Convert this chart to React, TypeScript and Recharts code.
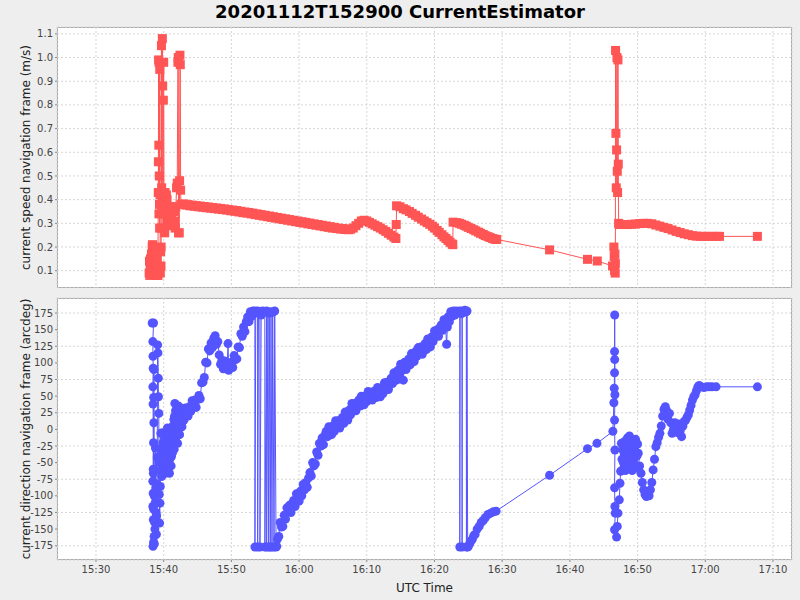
import React from 'react';
import { LineChart, Line, XAxis, YAxis, CartesianGrid } from 'recharts';

// time is minutes after 15:00 UTC
const timeTicks = [30, 40, 50, 60, 70, 80, 90, 100, 110, 120, 130];
const speedTicks = [0.1, 0.2, 0.3, 0.4, 0.5, 0.6, 0.7, 0.8, 0.9, 1.0, 1.1];
const dirTicks = [-175, -150, -125, -100, -75, -50, -25, 0, 25, 50, 75, 100, 125, 150, 175];

// [time, speed m/s]
const speedPts: [number, number][] = [
  [37.85, 0.09], [37.9, 0.14], [37.95, 0.08], [38.0, 0.12], [38.05, 0.15], [38.1, 0.1], [38.2, 0.17],
  [38.25, 0.13], [38.3, 0.2], [38.35, 0.21], [38.4, 0.16], [38.45, 0.19], [38.5, 0.12], [38.55, 0.18],
  [38.6, 0.09], [38.7, 0.14], [38.75, 0.11], [38.8, 0.17], [38.85, 0.08], [38.9, 0.13], [38.95, 0.1],
  [39.0, 0.15], [39.05, 0.09], [39.1, 0.12], [39.15, 0.08],
  [39.2, 0.43], [39.22, 0.56], [39.25, 0.99], [39.28, 0.63], [39.3, 0.34], [39.32, 0.98], [39.35, 0.5],
  [39.38, 0.38], [39.4, 0.28], [39.42, 0.95], [39.45, 0.42], [39.5, 0.09], [39.55, 0.18], [39.6, 0.12],
  [39.62, 0.2], [39.64, 0.28], [39.67, 1.05], [39.7, 0.45], [39.75, 0.35], [39.8, 1.08], [39.85, 0.88],
  [39.9, 0.4], [39.95, 0.82], [40.0, 0.98], [40.05, 0.34], [40.1, 0.36], [40.15, 0.26], [40.2, 0.43],
  [40.25, 0.38], [40.3, 0.35], [40.4, 0.42], [40.45, 0.31], [40.5, 0.4], [40.6, 0.34], [40.7, 0.37],
  [40.8, 0.3], [40.9, 0.35], [41.0, 0.29], [41.1, 0.33], [41.2, 0.36], [41.3, 0.3], [41.4, 0.37],
  [41.5, 0.35], [41.6, 0.31], [41.7, 0.28], [41.8, 0.37], [41.9, 0.45], [42.0, 0.47], [42.1, 0.98],
  [42.15, 1.0], [42.2, 0.26], [42.3, 0.26], [42.35, 0.48], [42.4, 1.01], [42.45, 0.97], [42.5, 0.44],
  [42.55, 0.38],
  [43.0, 0.382], [43.3, 0.377], [43.6, 0.379], [43.9, 0.374], [44.2, 0.377], [44.5, 0.372], [44.8, 0.375],
  [45.1, 0.37], [45.4, 0.373], [45.7, 0.368], [46.0, 0.371], [46.3, 0.366], [46.6, 0.369], [46.9, 0.364],
  [47.2, 0.367], [47.5, 0.362], [47.8, 0.365], [48.1, 0.36], [48.4, 0.363], [48.7, 0.358], [49.0, 0.361],
  [49.3, 0.356], [49.6, 0.358], [49.9, 0.353], [50.2, 0.356], [50.5, 0.351], [50.8, 0.354], [51.1, 0.348],
  [51.4, 0.351], [51.7, 0.345], [52.0, 0.348], [52.3, 0.343], [52.6, 0.346], [52.9, 0.34], [53.2, 0.343],
  [53.5, 0.337], [53.8, 0.34], [54.1, 0.334], [54.4, 0.337], [54.7, 0.331], [55.0, 0.334], [55.3, 0.328],
  [55.6, 0.331], [55.9, 0.325], [56.2, 0.328], [56.5, 0.322], [56.8, 0.325], [57.1, 0.319], [57.4, 0.322],
  [57.7, 0.316], [58.0, 0.319], [58.3, 0.313], [58.6, 0.316], [58.9, 0.31], [59.2, 0.313], [59.5, 0.307],
  [59.8, 0.31], [60.1, 0.304], [60.4, 0.307], [60.7, 0.301], [61.0, 0.304], [61.3, 0.298], [61.6, 0.301],
  [61.9, 0.295], [62.2, 0.298], [62.5, 0.292], [62.8, 0.295], [63.1, 0.289], [63.4, 0.292], [63.7, 0.286],
  [64.0, 0.289], [64.3, 0.283], [64.6, 0.286], [64.9, 0.28], [65.2, 0.283], [65.5, 0.278], [65.8, 0.28],
  [66.1, 0.276], [66.4, 0.278], [66.7, 0.274], [67.0, 0.276], [67.3, 0.273], [67.6, 0.275],
  [68.0, 0.28], [68.4, 0.29], [68.8, 0.3], [69.2, 0.31], [69.6, 0.313], [70.0, 0.31], [70.4, 0.304],
  [70.8, 0.298], [71.2, 0.292], [71.6, 0.286], [72.0, 0.28], [72.4, 0.273], [72.8, 0.266], [73.2, 0.258],
  [73.6, 0.25], [74.0, 0.242], [74.3, 0.236], [74.35, 0.295], [74.4, 0.374],
  [74.9, 0.37], [75.4, 0.362], [75.8, 0.357], [76.3, 0.35], [76.7, 0.342], [77.2, 0.334], [77.6, 0.326],
  [78.1, 0.318], [78.5, 0.31], [78.9, 0.303], [79.3, 0.296], [79.7, 0.288], [80.0, 0.28], [80.4, 0.27],
  [80.7, 0.262], [81.1, 0.252], [81.4, 0.243], [81.7, 0.236], [82.0, 0.228], [82.3, 0.22], [82.6, 0.213],
  [82.7, 0.21], [82.75, 0.305], [83.3, 0.303], [83.7, 0.3], [84.0, 0.296], [84.4, 0.292], [84.7, 0.288],
  [85.0, 0.283], [85.4, 0.278], [85.8, 0.273], [86.1, 0.268], [86.5, 0.263], [86.8, 0.258], [87.2, 0.253],
  [87.5, 0.248], [87.9, 0.244], [88.2, 0.24], [88.6, 0.236], [88.9, 0.233], [89.2, 0.232],
  [97.0, 0.188], [102.6, 0.148], [104.05, 0.141],
  [106.3, 0.12], [106.5, 0.2], [106.55, 0.16], [106.6, 0.1], [106.65, 0.17], [106.7, 0.09], [106.72, 0.13],
  [106.75, 1.03], [106.8, 0.68], [106.85, 0.45], [106.9, 0.61], [106.95, 1.0], [107.0, 0.52],
  [107.05, 0.43], [107.1, 0.99], [107.15, 0.55], [107.2, 0.3],
  [107.3, 0.295], [107.9, 0.295], [108.5, 0.295], [109.1, 0.296], [109.7, 0.297], [110.3, 0.299],
  [110.9, 0.3], [111.5, 0.3], [112.1, 0.298], [112.7, 0.293], [113.3, 0.288], [113.9, 0.283],
  [114.5, 0.278], [115.1, 0.272], [115.7, 0.266], [116.3, 0.261], [116.9, 0.256], [117.5, 0.252],
  [118.1, 0.248], [118.7, 0.246], [119.3, 0.245], [119.9, 0.245], [120.5, 0.245], [121.1, 0.245],
  [121.7, 0.245], [122.1, 0.245], [127.7, 0.245],
];

// [time, direction arcdeg]
const dirPts: [number, number][] = [
  // first burst around 15:38-15:43
  [38.3, 160], [38.5, 160], [38.4, 132], [38.42, 110], [38.45, 92], [38.4, 64], [38.43, 38], [38.47, -66],
  [38.4, -78], [38.45, -96], [38.4, -116], [38.47, -136], [38.42, -176], [38.5, -170], [38.58, -161],
  [38.52, -120], [38.46, -60], [38.5, -20], [38.55, 10], [38.52, 48], [38.56, 90], [38.6, -100],
  [38.66, -140], [38.62, -172], [38.7, -150], [38.76, -110], [38.72, -62], [38.78, -28], [38.82, -88],
  [38.86, -125], [38.92, -158], [38.96, -130], [39.0, -82], [39.05, -42], [39.1, 127], [39.15, 115],
  [39.2, 77], [39.22, 49], [39.28, 24], [39.3, -50], [39.35, -98], [39.4, -141], [39.45, -111],
  [39.5, -86], [39.52, -40], [39.58, -6], [39.62, -30], [39.66, -62],
  [39.7, -71], [39.75, -30], [39.8, -45], [39.85, -5], [39.88, -20], [39.92, -60], [39.95, -55],
  [40.0, -35], [40.05, -6], [40.1, -48], [40.15, -30], [40.2, -15], [40.25, -66], [40.3, -50],
  [40.35, -40], [40.4, -25], [40.45, -10], [40.5, -58], [40.55, 2], [40.6, -40], [40.65, -25],
  [40.7, -8], [40.75, -50], [40.8, -30], [40.85, -66], [40.9, -45], [40.95, -35], [41.0, -20],
  [41.05, -15], [41.1, -55], [41.15, -41], [41.2, -5], [41.25, -20], [41.3, -35], [41.35, 5],
  [41.4, -25], [41.45, -10], [41.5, 15], [41.55, -30], [41.6, 20], [41.65, 39], [41.7, 10], [41.75, 28],
  [41.8, -12], [41.85, 19], [41.9, 30], [41.95, -5], [42.0, 12], [42.05, -21], [42.1, 25], [42.15, 10],
  [42.2, 35], [42.25, 25], [42.3, 2], [42.35, -8], [42.4, 18], [42.45, 15], [42.5, 32], [42.55, 30],
  [42.6, 8], [42.7, 4],
  // slow turn to 180 by 15:53
  [42.8, 20], [43.0, 14], [43.2, 32], [43.4, 23], [43.6, 20], [43.8, 34], [44.0, 27], [44.2, 43],
  [44.4, 34], [44.6, 44], [44.8, 33], [45.0, 45], [45.2, 51], [45.4, 46], [45.6, 70], [45.8, 71],
  [46.0, 78], [46.2, 101], [46.4, 100], [46.6, 121], [46.8, 118], [47.0, 130], [47.2, 123], [47.4, 137],
  [47.6, 141], [47.8, 128], [48.0, 132], [48.2, 112], [48.4, 98], [48.6, 104], [48.8, 91], [49.0, 103],
  [49.2, 91], [49.4, 98], [49.5, 129], [49.6, 89], [49.8, 97], [50.0, 101], [50.2, 93], [50.4, 111],
  [50.6, 105], [50.8, 106], [51.0, 124], [51.2, 123], [51.4, 144], [51.6, 140], [51.8, 154], [52.0, 147],
  [52.2, 162], [52.4, 169], [52.6, 162], [52.8, 177], [53.0, 170], [53.2, 178],
  // wrap-around between 180 and -180
  [53.47, 178], [53.48, -177], [53.6, 175], [53.87, 178], [53.88, -177], [54.0, 176], [54.21, 177],
  [54.22, -177], [54.4, 172], [54.6, 178], [54.94, 176], [54.95, -177], [55.2, 178], [55.21, -177],
  [55.4, 176], [55.5, -177], [55.6, 175], [55.75, -177], [55.85, 177], [56.0, -177], [56.1, 176],
  [56.3, -177], [56.4, 178], [56.6, -177], [56.7, -176],
  // long rise 15:57 - 16:23
  [56.8, -165], [57.0, -161], [57.2, -140], [57.4, -147], [57.6, -146], [57.8, -129], [58.0, -135],
  [58.2, -118], [58.4, -124], [58.6, -114], [58.8, -125], [59.0, -111], [59.2, -107], [59.4, -116],
  [59.6, -97], [59.8, -105], [60.0, -108], [60.2, -93], [60.4, -100], [60.6, -83], [60.8, -91],
  [61.0, -80], [61.2, -87], [61.4, -73], [61.6, -65], [61.8, -70], [62.0, -50], [62.2, -55], [62.4, -52],
  [62.6, -34], [62.8, -39], [63.0, -21], [63.2, -25], [63.4, -13], [63.6, -23], [63.8, -9], [64.0, -3],
  [64.2, -11], [64.4, 4], [64.6, -5], [64.8, -8], [65.0, 5], [65.2, -3], [65.4, 13], [65.6, 4],
  [65.8, 13], [66.0, 2], [66.2, 14], [66.4, 18], [66.6, 9], [66.8, 26], [67.0, 17], [67.2, 14],
  [67.4, 29], [67.6, 22], [67.8, 39], [68.0, 30], [68.2, 39], [68.4, 28], [68.6, 40], [68.8, 44],
  [69.0, 35], [69.2, 50], [69.4, 40], [69.6, 37], [69.8, 50], [70.0, 42], [70.2, 57], [70.4, 47],
  [70.6, 56], [70.8, 44], [71.0, 55], [71.2, 58], [71.4, 48], [71.6, 63], [71.8, 53], [72.0, 49],
  [72.2, 62], [72.4, 54], [72.6, 70], [72.8, 61], [73.0, 71], [73.2, 60], [73.4, 72], [73.6, 77],
  [73.8, 69], [74.0, 85], [74.2, 77], [74.4, 74], [74.6, 89], [74.8, 82], [75.0, 98], [75.2, 89],
  [75.4, 74], [75.6, 101], [75.8, 90], [76.0, 102], [76.2, 106], [76.4, 97], [76.6, 114], [76.8, 105],
  [77.0, 102], [77.2, 117], [77.4, 110], [77.6, 123], [77.8, 114], [78.0, 124], [78.2, 113], [78.4, 125],
  [78.6, 129], [78.8, 120], [79.0, 136], [79.2, 127], [79.4, 124], [79.6, 139], [79.8, 132], [80.0, 148],
  [80.2, 140], [80.4, 150], [80.6, 140], [80.8, 153], [81.0, 157], [81.2, 149], [81.4, 165], [81.6, 157],
  [81.8, 128], [81.9, 154], [82.0, 169], [82.2, 162], [82.4, 177], [82.6, 170], [82.8, 178], [83.0, 172],
  [83.2, 178], [83.5, 175],
  [83.73, 178], [83.74, -177], [83.8, 177], [84.0, 174], [84.07, 177], [84.08, -177], [84.1, 178],
  [84.3, 176], [84.5, 179], [84.7, 177], [84.72, -177], [84.8, 178], [84.9, -177], [85.0, -176],
  [85.2, -172], [85.4, -168], [85.6, -165], [85.8, -160], [86.0, -158], [86.3, -150], [86.6, -146],
  [86.9, -140], [87.2, -137], [87.5, -133], [87.9, -128], [88.3, -126], [88.7, -124], [89.1, -123],
  [97.0, -69], [102.6, -29], [104.0, -21], [106.35, -3],
  // second burst around 16:46
  [106.5, 40], [106.55, 62], [106.6, 85], [106.62, 105], [106.6, 117], [106.62, 172], [106.65, 52],
  [106.6, 14], [106.65, -31], [106.6, -88], [106.65, -116], [106.7, -126], [106.6, -151], [106.9, -162],
  [107.0, -146], [107.1, -126], [107.3, -106], [107.4, -81], [107.5, -63], [107.6, -21],
  [107.7, -45], [107.8, -30], [107.85, -60], [107.9, -50], [108.0, -35], [108.1, -18], [108.2, -62],
  [108.3, -40], [108.4, -28], [108.5, -13], [108.6, -55], [108.7, -25], [108.8, -10], [108.9, -45],
  [109.0, -38], [109.1, -20], [109.2, -62], [109.3, -56], [109.4, -48], [109.5, -30], [109.6, -25],
  [109.7, -15], [109.8, -58], [109.9, -40], [110.0, -22], [110.1, -36], [110.3, -55],
  [110.5, -66], [110.7, -80], [110.9, -91], [111.1, -98], [111.3, -101], [111.5, -96], [111.7, -100],
  [111.9, -91], [112.1, -80], [112.3, -61], [112.5, -45], [112.7, -26], [112.9, -20], [113.1, -12],
  [113.3, -6], [113.5, 5], [113.7, 20], [113.9, 30], [114.1, 34], [114.3, 28], [114.5, 15], [114.7, 24],
  [114.9, 10], [115.1, -6], [115.3, 0], [115.5, 10], [115.7, 4], [115.9, -5], [116.1, 8], [116.3, -2],
  [116.5, -11], [116.7, 5], [116.9, 12], [117.1, 14], [117.3, 18], [117.5, 22], [117.7, 29], [117.9, 36],
  [118.1, 44], [118.3, 49], [118.5, 52], [118.7, 58], [118.9, 64], [119.1, 66], [119.4, 64], [119.8, 63],
  [120.2, 64], [120.6, 64], [121.0, 64], [121.6, 64], [127.7, 64],
];

const speedData = speedPts.map(([t, v]) => ({ t, v }));
const dirData = dirPts.map(([t, d]) => ({ t, d }));

const RED = '#FF5555';
const BLUE = '#5555FF';
const FONT = "'DejaVu Sans', sans-serif";

const fmtTime = (t: number) => {
  const h = 15 + Math.floor(t / 60);
  const m = Math.round(t % 60);
  return `${h}:${String(m).padStart(2, '0')}`;
};

const SquareDot = (props: any) => {
  const { cx, cy, index } = props;
  if (cx == null || cy == null) return <g key={index} />;
  return <rect key={index} x={cx - 4.5} y={cy - 4.5} width={9} height={9} fill={RED} />;
};

const tickStyle = { fontSize: 10, fill: '#444', fontFamily: FONT };
const labelStyle = { fontSize: 12, fill: '#222', fontFamily: FONT, textAnchor: 'middle' as const };

export default function App() {
  return (
    <div style={{ position: 'absolute', left: 0, top: 0, width: 800, height: 600, background: '#EEEEEE', fontFamily: FONT }}>
      <div style={{ position: 'absolute', left: 0, top: 1, width: 800, textAlign: 'center', fontSize: 18, fontWeight: 'bold', color: '#000' }}>
        20201112T152900 CurrentEstimator
      </div>
      <div style={{ position: 'absolute', left: 57, top: 27, width: 735, height: 261, background: '#fff', border: '1px solid #aaa', boxSizing: 'border-box' }} />
      <div style={{ position: 'absolute', left: 57, top: 298, width: 735, height: 262, background: '#fff', border: '1px solid #aaa', boxSizing: 'border-box' }} />

      <div style={{ position: 'absolute', left: 0, top: 0 }}>
        <LineChart width={800} height={288} data={speedData} margin={{ top: 27, right: 8, bottom: 0, left: 0 }}>
          <CartesianGrid strokeDasharray="2 2" stroke="#d6d6d6" />
          <XAxis dataKey="t" type="number" domain={[24.24, 132.81]} ticks={timeTicks} allowDataOverflow hide />
          <YAxis
            type="number"
            domain={[0.027, 1.129]}
            ticks={speedTicks}
            allowDataOverflow
            width={57}
            axisLine={false}
            tickSize={2}
            tickLine={{ stroke: '#888' }}
            tick={tickStyle}
            tickFormatter={(v: number) => v.toFixed(1)}
            label={{ value: 'current speed navigation frame (m/s)', angle: -90, position: 'insideLeft', offset: 26, style: labelStyle }}
          />
          <Line dataKey="v" stroke={RED} strokeWidth={1} dot={SquareDot} activeDot={false} isAnimationActive={false} />
        </LineChart>
      </div>

      <div style={{ position: 'absolute', left: 0, top: 0 }}>
        <LineChart width={800} height={600} data={dirData} margin={{ top: 298, right: 8, bottom: 0, left: 0 }}>
          <CartesianGrid strokeDasharray="2 2" stroke="#d6d6d6" />
          <XAxis
            dataKey="t"
            type="number"
            domain={[24.24, 132.81]}
            ticks={timeTicks}
            allowDataOverflow
            height={40}
            axisLine={false}
            tickSize={2}
            tickMargin={4}
            tickLine={{ stroke: '#888' }}
            tick={tickStyle}
            tickFormatter={fmtTime}
            label={{ value: 'UTC Time', position: 'insideBottom', offset: 8, style: labelStyle }}
          />
          <YAxis
            type="number"
            domain={[-196.5, 197.6]}
            ticks={dirTicks}
            allowDataOverflow
            width={57}
            axisLine={false}
            tickSize={2}
            tickLine={{ stroke: '#888' }}
            tick={tickStyle}
            label={{ value: 'current direction navigation frame (arcdeg)', angle: -90, position: 'insideLeft', offset: 26, style: labelStyle }}
          />
          <Line
            dataKey="d"
            stroke={BLUE}
            strokeWidth={1}
            dot={{ r: 4.5, fill: BLUE, stroke: 'none' }}
            activeDot={false}
            isAnimationActive={false}
          />
        </LineChart>
      </div>
    </div>
  );
}
